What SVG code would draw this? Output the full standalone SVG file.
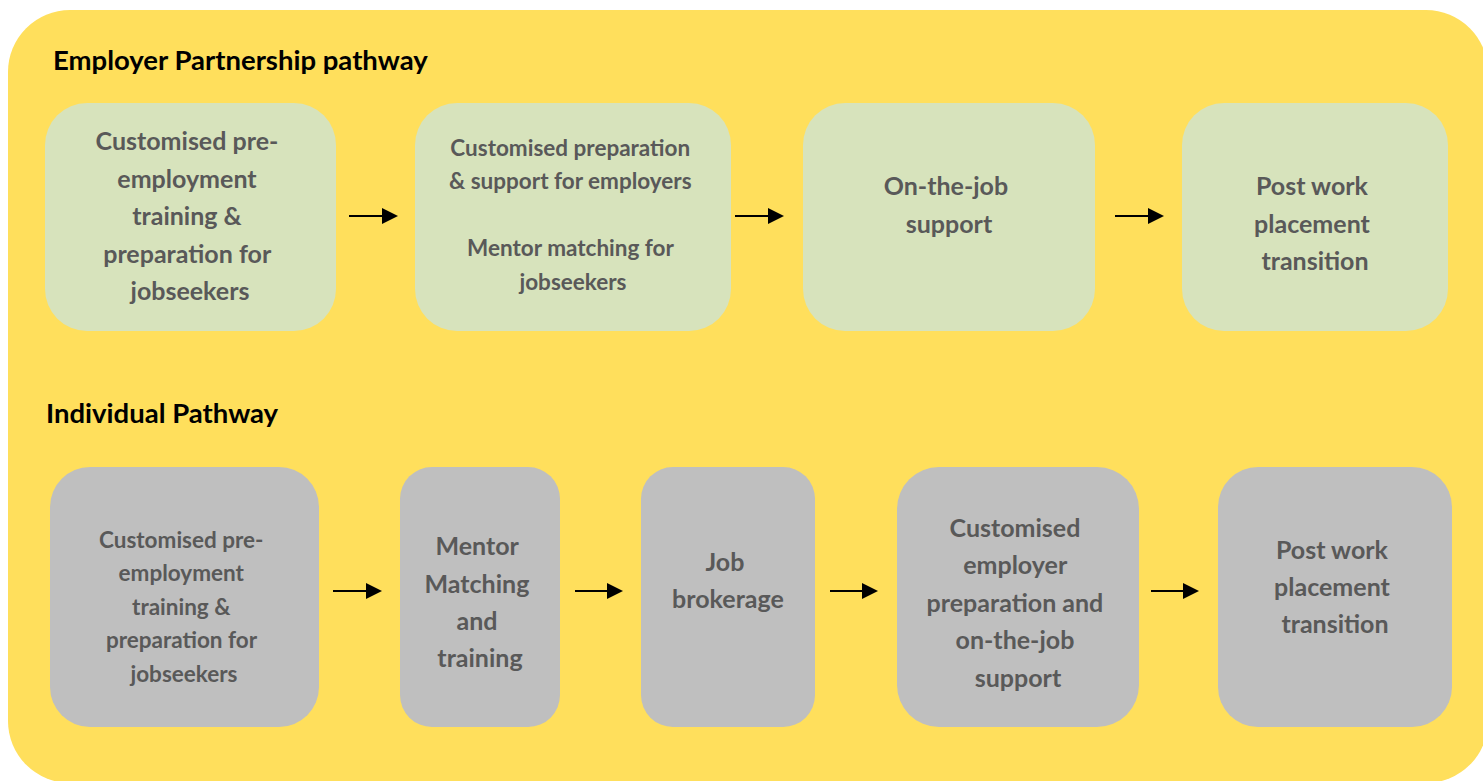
<svg xmlns="http://www.w3.org/2000/svg" width="1483" height="781" viewBox="0 0 1483 781">
  <style>
    .panel { fill: #FFDF5C; }
    .green { fill: #D7E3BC; }
    .grey { fill: #BFBFBF; }
    .title { font-family: Lato, "Liberation Sans", sans-serif; font-weight: 700; font-size: 27.5px; fill: #000000; }
    .lbl { font-family: Lato, "Liberation Sans", sans-serif; font-weight: 700; fill: #595959; text-anchor: middle; }
    .big { font-size: 25px; }
    .small { font-size: 22.5px; }
    .conn { stroke: #000000; stroke-width: 2; fill: none; marker-end: url(#arrow); }
  </style>
  <defs>
    <marker id="arrow" markerWidth="8" markerHeight="8" refX="7" refY="4" orient="auto" markerUnits="strokeWidth">
      <path d="M0,0 L8,4 L0,8 Z" fill="#000000"/>
    </marker>
  </defs>

  <!-- background panel -->
  <rect class="panel" x="8" y="10" width="1480" height="773" rx="62" ry="62"/>

  <text class="title" x="53" y="70">Employer Partnership pathway</text>
  <text class="title" x="46" y="423">Individual Pathway</text>

  <!-- Employer Partnership pathway -->
  <g id="ep1">
    <rect class="green" x="45" y="103" width="291" height="228" rx="42"/>
    <text class="lbl big">
      <tspan x="190" y="150">Customised pre-</tspan>
      <tspan x="190" y="188">employment</tspan>
      <tspan x="190" y="225">training &amp;</tspan>
      <tspan x="190" y="263">preparation for</tspan>
      <tspan x="190" y="300">jobseekers</tspan>
    </text>
  </g>
  <g id="ep2">
    <rect class="green" x="415" y="103" width="316" height="228" rx="42"/>
    <text class="lbl small">
      <tspan x="573" y="156">Customised preparation</tspan>
      <tspan x="573" y="189">&amp; support for employers</tspan>
      <tspan x="573" y="256">Mentor matching for</tspan>
      <tspan x="573" y="290">jobseekers</tspan>
    </text>
  </g>
  <g id="ep3">
    <rect class="green" x="803" y="103" width="292" height="228" rx="42"/>
    <text class="lbl big">
      <tspan x="949" y="195">On-the-job</tspan>
      <tspan x="949" y="233">support</tspan>
    </text>
  </g>
  <g id="ep4">
    <rect class="green" x="1182" y="103" width="266" height="228" rx="42"/>
    <text class="lbl big">
      <tspan x="1315" y="195">Post work</tspan>
      <tspan x="1315" y="233">placement</tspan>
      <tspan x="1315" y="270">transition</tspan>
    </text>
  </g>

  <!-- Individual Pathway -->
  <g id="ip1">
    <rect class="grey" x="50" y="467" width="269" height="260" rx="40"/>
    <text class="lbl small">
      <tspan x="184" y="548">Customised pre-</tspan>
      <tspan x="184" y="581">employment</tspan>
      <tspan x="184" y="615">training &amp;</tspan>
      <tspan x="184" y="648">preparation for</tspan>
      <tspan x="184" y="682">jobseekers</tspan>
    </text>
  </g>
  <g id="ip2">
    <rect class="grey" x="400" y="467" width="160" height="260" rx="32"/>
    <text class="lbl big">
      <tspan x="480" y="555">Mentor</tspan>
      <tspan x="480" y="593">Matching</tspan>
      <tspan x="480" y="630">and</tspan>
      <tspan x="480" y="667">training</tspan>
    </text>
  </g>
  <g id="ip3">
    <rect class="grey" x="641" y="467" width="174" height="260" rx="32"/>
    <text class="lbl big">
      <tspan x="728" y="571">Job</tspan>
      <tspan x="728" y="608">brokerage</tspan>
    </text>
  </g>
  <g id="ip4">
    <rect class="grey" x="897" y="467" width="242" height="260" rx="42"/>
    <text class="lbl big">
      <tspan x="1018" y="537">Customised</tspan>
      <tspan x="1018" y="574">employer</tspan>
      <tspan x="1018" y="612">preparation and</tspan>
      <tspan x="1018" y="649">on-the-job</tspan>
      <tspan x="1018" y="687">support</tspan>
    </text>
  </g>
  <g id="ip5">
    <rect class="grey" x="1218" y="467" width="234" height="260" rx="40"/>
    <text class="lbl big">
      <tspan x="1335" y="559">Post work</tspan>
      <tspan x="1335" y="596">placement</tspan>
      <tspan x="1335" y="633">transition</tspan>
    </text>
  </g>

  <!-- connectors -->
  <g id="connectors">
    <line class="conn" x1="349" y1="216" x2="396" y2="216"/>
    <line class="conn" x1="735" y1="216" x2="782" y2="216"/>
    <line class="conn" x1="1115" y1="216" x2="1162" y2="216"/>
    <line class="conn" x1="333" y1="591" x2="380" y2="591"/>
    <line class="conn" x1="575" y1="591" x2="621" y2="591"/>
    <line class="conn" x1="830" y1="591" x2="876" y2="591"/>
    <line class="conn" x1="1151" y1="591" x2="1197" y2="591"/>
  </g>
</svg>
